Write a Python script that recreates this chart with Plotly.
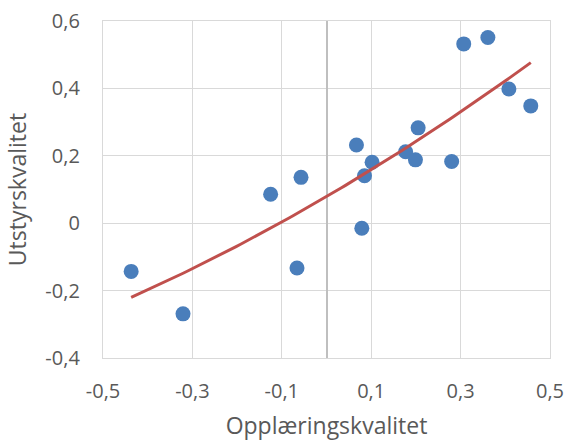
import numpy as np
import plotly.graph_objects as go

opplaering = [-0.437, -0.321, -0.125, -0.066, -0.057, 0.067, 0.079, 0.085, 0.102,
              0.177, 0.199, 0.205, 0.280, 0.307, 0.361, 0.408, 0.457]
utstyr = [-0.143, -0.269, 0.086, -0.133, 0.136, 0.232, -0.015, 0.141, 0.181,
          0.212, 0.188, 0.283, 0.183, 0.532, 0.551, 0.398, 0.348]

x_tickvals = [-0.5, -0.3, -0.1, 0.1, 0.3, 0.5]
x_ticktext = ["-0,5", "-0,3", "-0,1", "0,1", "0,3", "0,5"]
y_tickvals = [-0.4, -0.2, 0, 0.2, 0.4, 0.6]
y_ticktext = ["-0,4", "-0,2", "0", "0,2", "0,4", "0,6"]

# second-order polynomial trendline fitted from the data
coef = np.polyfit(opplaering, utstyr, 2)
xt = np.linspace(min(opplaering), max(opplaering), 100)
yt = np.polyval(coef, xt)

font = "Open Sans"
gray = "#595959"

fig = go.Figure()
fig.add_trace(go.Scatter(x=opplaering, y=utstyr, mode="markers",
                         marker=dict(size=15, color="#4A7EBB"), showlegend=False))
fig.add_trace(go.Scatter(x=xt, y=yt, mode="lines",
                         line=dict(color="#C0504D", width=3), showlegend=False))

fig.update_layout(
    width=566, height=441,
    margin=dict(l=103, r=16, t=21, b=83),
    paper_bgcolor="white", plot_bgcolor="white",
    font=dict(family=font, color=gray, size=20),
    xaxis=dict(range=[-0.5, 0.5], tickvals=x_tickvals, ticktext=x_ticktext,
               showgrid=True, gridcolor="#D9D9D9", gridwidth=1.3,
               showline=True, mirror=True, linecolor="#D9D9D9", linewidth=1.3,
               zeroline=True, zerolinecolor="#BFBFBF", zerolinewidth=1.5,
               ticks="outside", ticklen=15, tickcolor="rgba(0,0,0,0)",
               title=dict(text="Opplæringskvalitet", standoff=16,
                          font=dict(size=23, color=gray)),
               automargin=False, fixedrange=True),
    yaxis=dict(range=[-0.4, 0.6], tickvals=y_tickvals, ticktext=y_ticktext,
               showgrid=True, gridcolor="#D9D9D9", gridwidth=1.3,
               showline=True, mirror=True, linecolor="#D9D9D9", linewidth=1.3,
               zeroline=False,
               ticks="outside", ticklen=18, tickcolor="rgba(0,0,0,0)",
               title=dict(text="Utstyrskvalitet", standoff=12,
                          font=dict(size=23, color=gray)),
               automargin=False, fixedrange=True),
)

fig.write_html("out.html", config={"displayModeBar": False},
               post_script="document.body.style.margin='0';document.body.style.padding='0';")
